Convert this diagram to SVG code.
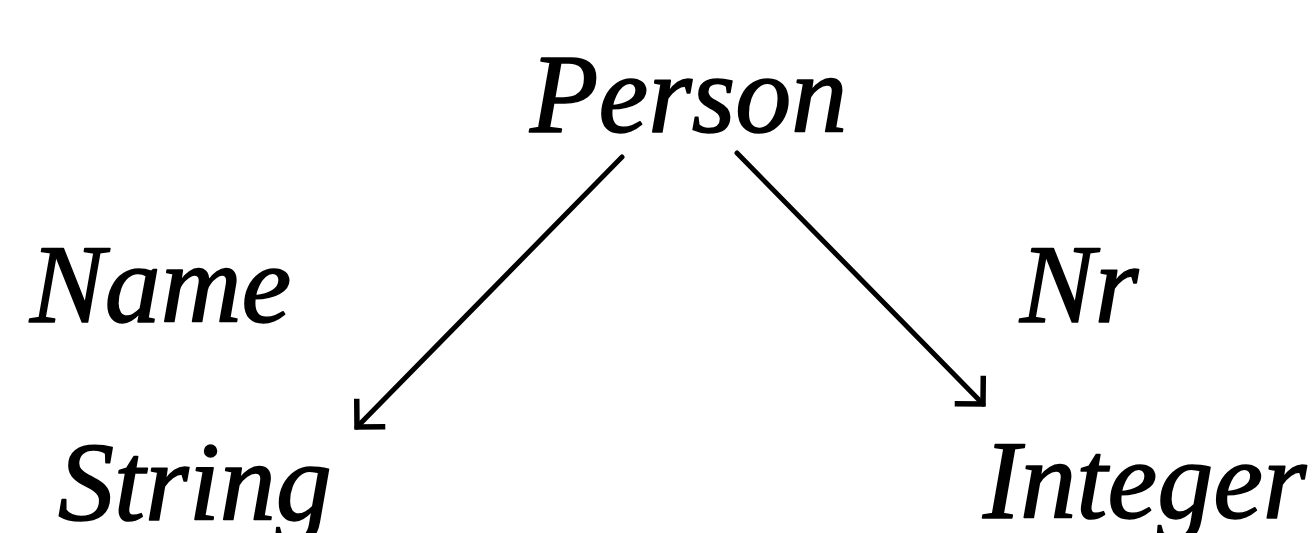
<svg xmlns="http://www.w3.org/2000/svg" width="1316" height="533" viewBox="0 0 1316 533">
<style>
.lbl{font-family:"Liberation Serif","Times New Roman",serif;font-style:italic;font-size:112px;fill:#000;stroke:#000;stroke-width:1.6;stroke-linejoin:round}
.edge{stroke:#000;stroke-width:5;fill:none;stroke-linecap:round}
</style>
<defs>
<marker id="ah" markerUnits="userSpaceOnUse" viewBox="-26 -26 30 52" refX="0" refY="0" markerWidth="30" markerHeight="52" orient="auto" overflow="visible">
<path d="M-20,-20 L0,0 L-20,20" fill="none" stroke="#000" stroke-width="5.5" stroke-linejoin="miter"/>
</marker>
</defs>
<rect width="1316" height="533" fill="#fff"/>
<g id="connectors">
<line class="edge" x1="622" y1="157" x2="357" y2="427" marker-end="url(#ah)"/>
<line class="edge" x1="737" y1="153" x2="983" y2="404" marker-end="url(#ah)"/>
</g>
<g id="person"><text class="lbl" x="530" y="132">Person</text></g>
<g id="name-label"><text class="lbl" x="30" y="322">Name</text></g>
<g id="nr-label"><text class="lbl" x="1020" y="322">Nr</text></g>
<g id="string"><text class="lbl" x="58" y="520">String</text></g>
<g id="integer"><text class="lbl" x="983" y="518">Integer</text></g>
</svg>
